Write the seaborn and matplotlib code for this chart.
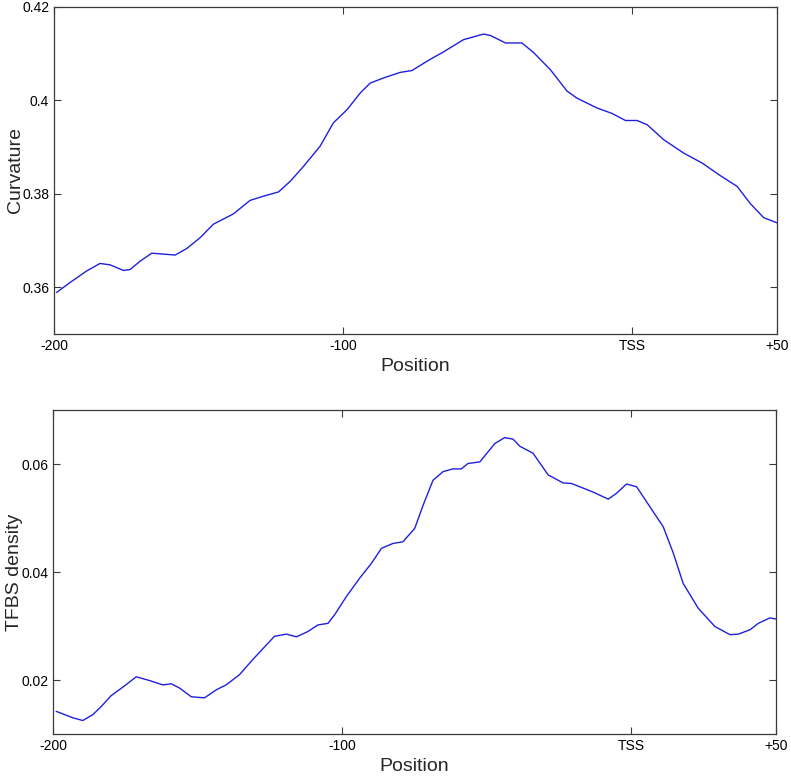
import pandas as pd
import matplotlib
matplotlib.use("Agg")
import matplotlib.pyplot as plt
import seaborn as sns

# values
CURV_POS = [-199.1, -194.5, -188.7, -184.1, -180.6, -176.0, -173.7, -170.2, -166.2, -162.2,
            -158.1, -154.1, -149.5, -144.9, -138.0, -132.2, -127.6, -122.4, -118.3, -113.7,
            -108.0, -103.4, -98.7, -94.1, -90.7, -86.1, -80.3, -76.2, -71.0, -65.3,
            -58.4, -51.5, -49.1, -43.9, -38.2, -34.1, -28.4, -22.6, -19.2, -12.3,
            -7.0, -2.4, 1.6, 5.1, 10.8, 17.8, 24.1, 30.4, 36.2, 40.8,
            45.4, 50.0]
CURV_VAL = [0.3589, 0.3610, 0.3635, 0.3651, 0.3648, 0.3636, 0.3638, 0.3656, 0.3673, 0.3671,
            0.3669, 0.3683, 0.3706, 0.3735, 0.3757, 0.3786, 0.3795, 0.3804, 0.3827, 0.3859,
            0.3902, 0.3952, 0.3980, 0.4016, 0.4037, 0.4048, 0.4060, 0.4064, 0.4084, 0.4104,
            0.4130, 0.4142, 0.4139, 0.4123, 0.4123, 0.4102, 0.4066, 0.4020, 0.4005, 0.3984,
            0.3972, 0.3957, 0.3957, 0.3948, 0.3916, 0.3887, 0.3866, 0.3839, 0.3816, 0.3779,
            0.3749, 0.3738]

TFBS_POS = [-198.9, -196.0, -193.1, -189.7, -186.2, -183.3, -179.9, -175.8, -171.2, -166.6,
            -162.0, -159.1, -156.2, -152.2, -147.6, -143.5, -140.1, -135.5, -130.9, -126.2,
            -123.4, -119.3, -115.8, -111.8, -108.4, -104.9, -102.6, -98.5, -93.9, -89.9,
            -86.4, -82.4, -79.0, -74.9, -72.0, -68.6, -65.1, -61.7, -58.8, -56.5,
            -52.4, -47.2, -43.8, -40.9, -38.6, -34.0, -28.8, -23.6, -20.7, -13.2,
            -8.0, -5.1, -1.7, 1.8, 7.5, 11.0, 14.5, 17.9, 23.1, 28.9,
            34.1, 37.0, 41.0, 43.9, 47.9, 50.0]
TFBS_VAL = [0.0142, 0.0136, 0.0130, 0.0125, 0.0136, 0.0151, 0.0171, 0.0187, 0.0206, 0.0199,
            0.0191, 0.0193, 0.0185, 0.0169, 0.0167, 0.0182, 0.0191, 0.0210, 0.0238, 0.0265,
            0.0281, 0.0285, 0.0280, 0.0290, 0.0302, 0.0305, 0.0321, 0.0355, 0.0389, 0.0416,
            0.0444, 0.0453, 0.0456, 0.0481, 0.0524, 0.0570, 0.0586, 0.0591, 0.0591, 0.0601,
            0.0604, 0.0638, 0.0649, 0.0646, 0.0633, 0.0620, 0.0580, 0.0565, 0.0564, 0.0548,
            0.0535, 0.0546, 0.0563, 0.0558, 0.0512, 0.0484, 0.0435, 0.0379, 0.0333, 0.0299,
            0.0284, 0.0285, 0.0293, 0.0305, 0.0315, 0.0313]

X_TICKS = [-200, -100, 0, 50]
X_TICK_LABELS = ["-200", "-100", "TSS", "+50"]
CURV_TICKS = [0.36, 0.38, 0.40, 0.42]
CURV_TICK_LABELS = ["0.36", "0.38", "0.4", "0.42"]
TFBS_TICKS = [0.02, 0.04, 0.06]
TFBS_TICK_LABELS = ["0.02", "0.04", "0.06"]

LINE_COLOR = "#1f1fe0"
SPINE_COLOR = "#3a3a3a"

sns.set_style("ticks")
plt.rcParams["font.family"] = ["Liberation Sans", "DejaVu Sans"]

fig = plt.figure(figsize=(7.91, 7.76), dpi=100)
ax_top = fig.add_axes([0.0683, 0.5696, 0.914, 0.4214])
ax_bot = fig.add_axes([0.0670, 0.0541, 0.914, 0.4175])

curv_df = pd.DataFrame({"Position": CURV_POS, "Curvature": CURV_VAL})
tfbs_df = pd.DataFrame({"Position": TFBS_POS, "TFBS density": TFBS_VAL})

sns.lineplot(data=curv_df, x="Position", y="Curvature", ax=ax_top,
             color=LINE_COLOR, linewidth=1.0)
sns.lineplot(data=tfbs_df, x="Position", y="TFBS density", ax=ax_bot,
             color=LINE_COLOR, linewidth=1.0)

panels = [
    (ax_top, (0.35, 0.42), CURV_TICKS, CURV_TICK_LABELS, "Curvature"),
    (ax_bot, (0.01, 0.07), TFBS_TICKS, TFBS_TICK_LABELS, "TFBS density"),
]
for ax, ylim, yticks, ylabels, ylab in panels:
    ax.set_xlim(-200, 50)
    ax.set_ylim(*ylim)
    ax.set_xticks(X_TICKS)
    ax.set_xticklabels(X_TICK_LABELS)
    ax.set_yticks(yticks)
    ax.set_yticklabels(ylabels)
    ax.set_xlabel("Position", fontsize=14, labelpad=4)
    ax.set_ylabel(ylab, fontsize=14)
    ax.yaxis.set_label_coords(-0.041, 0.5)
    ax.tick_params(direction="in", length=5, width=0.8, labelsize=10,
                   top=True, right=True, colors=SPINE_COLOR, labelcolor="black")
    for sp in ax.spines.values():
        sp.set_visible(True)
        sp.set_color(SPINE_COLOR)
        sp.set_linewidth(0.9)

fig.savefig("out.png", dpi=100)
